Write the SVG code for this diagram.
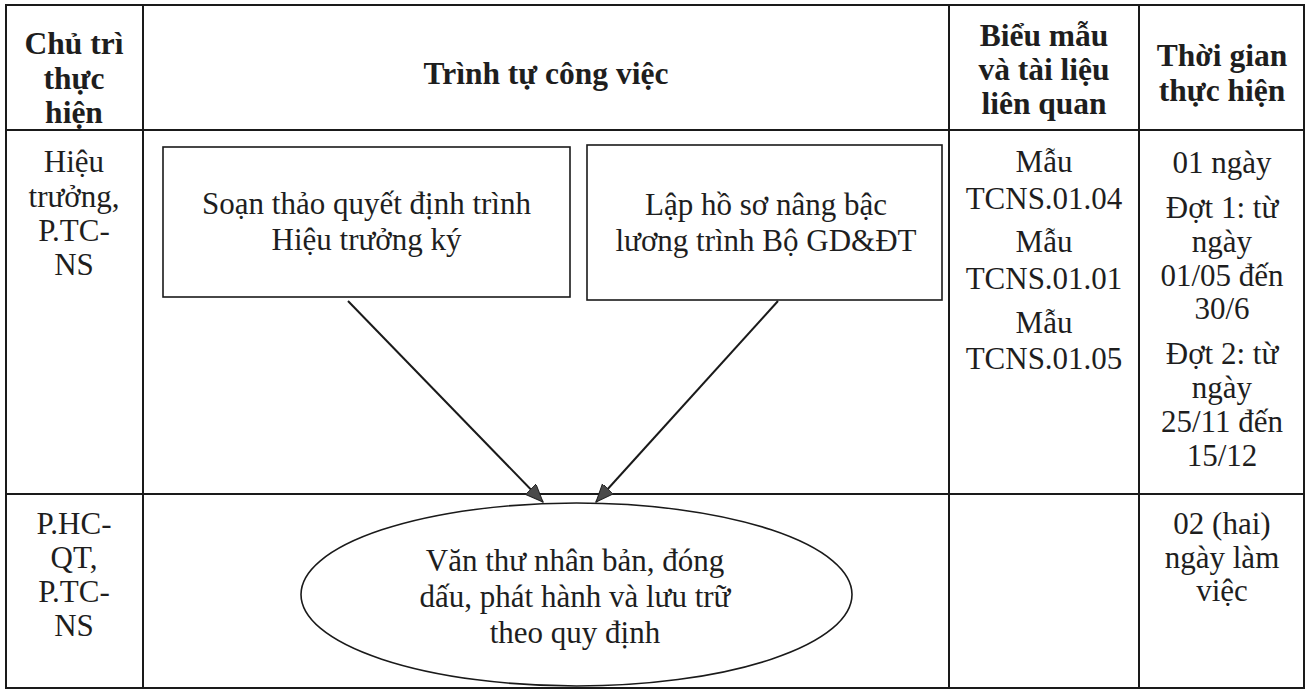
<svg xmlns="http://www.w3.org/2000/svg" width="1312" height="693" viewBox="0 0 1312 693">
  <style>
    .grid { stroke: #1a1a1a; stroke-width: 2; fill: none; }
    .box { stroke: #1a1a1a; stroke-width: 1.6; fill: #ffffff; }
    .conn { stroke: #1a1a1a; stroke-width: 2; fill: none; }
    .h { font-family: "Liberation Serif", "Times New Roman", serif; font-size: 31.5px; font-weight: bold; fill: #1e1e1e; text-anchor: middle; }
    .t { font-family: "Liberation Serif", "Times New Roman", serif; font-size: 31px; fill: #1e1e1e; text-anchor: middle; }
  </style>
  <defs>
    <marker id="arrow" markerUnits="userSpaceOnUse" markerWidth="20" markerHeight="16" refX="18" refY="7.5" orient="auto">
      <path d="M0,0 L18,7.5 L0,15 z" fill="#4a4a4a" stroke="#222222" stroke-width="1"/>
    </marker>
  </defs>
  <rect width="1312" height="693" fill="#ffffff"/>

  <g id="table">
    <rect class="grid" x="6" y="5" width="1298" height="683"/>
    <line class="grid" x1="143" y1="5" x2="143" y2="688"/>
    <line class="grid" x1="949" y1="5" x2="949" y2="688"/>
    <line class="grid" x1="1139" y1="5" x2="1139" y2="688"/>
    <line class="grid" x1="6" y1="130" x2="1304" y2="130"/>
    <line class="grid" x1="6" y1="494" x2="1304" y2="494"/>
  </g>

  <g id="header">
    <text class="h" x="74" y="54">Chủ trì</text>
    <text class="h" x="74" y="89">thực</text>
    <text class="h" x="74" y="123">hiện</text>
    <text class="h" x="546" y="84">Trình tự công việc</text>
    <text class="h" x="1044" y="46">Biểu mẫu</text>
    <text class="h" x="1044" y="80">và tài liệu</text>
    <text class="h" x="1044" y="114">liên quan</text>
    <text class="h" x="1222" y="66">Thời gian</text>
    <text class="h" x="1222" y="101">thực hiện</text>
  </g>

  <g id="row1-owner">
    <text class="t" x="74" y="172">Hiệu</text>
    <text class="t" x="74" y="207">trưởng,</text>
    <text class="t" x="74" y="241">P.TC-</text>
    <text class="t" x="74" y="275">NS</text>
  </g>

  <g id="node-soan-thao">
    <rect class="box" x="163" y="147" width="407" height="150"/>
    <text class="t" x="366.5" y="214">Soạn thảo quyết định trình</text>
    <text class="t" x="366.5" y="250">Hiệu trưởng ký</text>
  </g>

  <g id="node-lap-ho-so">
    <rect class="box" x="587" y="145" width="355" height="155"/>
    <text class="t" x="766" y="215">Lập hồ sơ nâng bậc</text>
    <text class="t" x="766" y="251">lương trình Bộ GD&amp;ĐT</text>
  </g>

  <g id="row1-forms">
    <text class="t" x="1044" y="172">Mẫu</text>
    <text class="t" x="1044" y="209">TCNS.01.04</text>
    <text class="t" x="1044" y="252">Mẫu</text>
    <text class="t" x="1044" y="289">TCNS.01.01</text>
    <text class="t" x="1044" y="333">Mẫu</text>
    <text class="t" x="1044" y="369">TCNS.01.05</text>
  </g>

  <g id="row1-time">
    <text class="t" x="1222" y="173">01 ngày</text>
    <text class="t" x="1222" y="218">Đợt 1: từ</text>
    <text class="t" x="1222" y="252">ngày</text>
    <text class="t" x="1222" y="286">01/05 đến</text>
    <text class="t" x="1222" y="319">30/6</text>
    <text class="t" x="1222" y="364">Đợt 2: từ</text>
    <text class="t" x="1222" y="398">ngày</text>
    <text class="t" x="1222" y="432">25/11 đến</text>
    <text class="t" x="1222" y="466">15/12</text>
  </g>

  <g id="row2-owner">
    <text class="t" x="74" y="534">P.HC-</text>
    <text class="t" x="74" y="568">QT,</text>
    <text class="t" x="74" y="602">P.TC-</text>
    <text class="t" x="74" y="636">NS</text>
  </g>

  <g id="node-van-thu">
    <ellipse class="box" cx="576.5" cy="594.5" rx="275.5" ry="91.5"/>
    <text class="t" x="575" y="571">Văn thư nhân bản, đóng</text>
    <text class="t" x="575" y="607">dấu, phát hành và lưu trữ</text>
    <text class="t" x="575" y="643">theo quy định</text>
  </g>

  <g id="row2-time">
    <text class="t" x="1222" y="534">02 (hai)</text>
    <text class="t" x="1222" y="568">ngày làm</text>
    <text class="t" x="1222" y="601">việc</text>
  </g>

  <g id="connectors">
    <line class="conn" x1="348" y1="301" x2="543" y2="502" marker-end="url(#arrow)"/>
    <line class="conn" x1="778" y1="301" x2="596" y2="502" marker-end="url(#arrow)"/>
  </g>
</svg>
